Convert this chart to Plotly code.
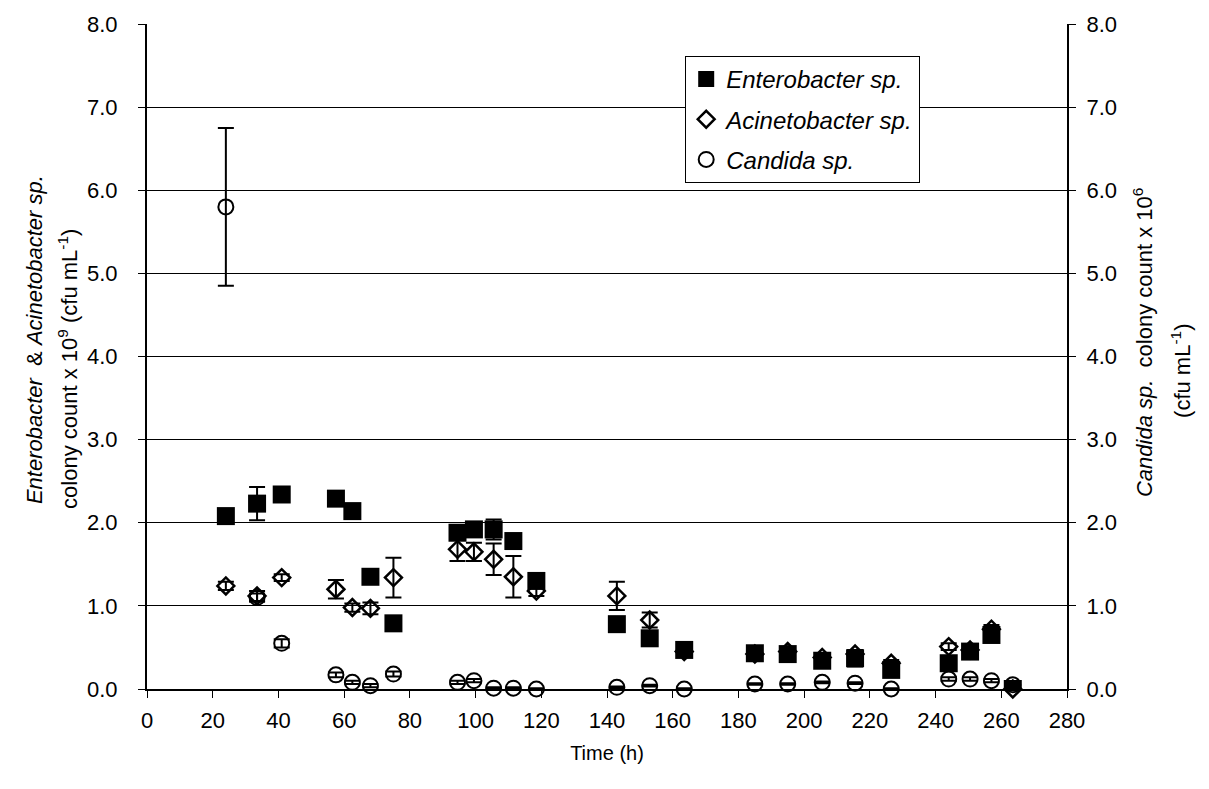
import plotly.graph_objects as go

# Sampling times (h)
time_h = [24, 33.5, 41, 57.5, 62.5, 68, 75, 94.5, 99.5, 105.5, 111.5, 118.5,
          143, 153, 163.5, 185, 195, 205.5, 215.5, 226.5, 244, 250.5, 257, 263.5]

# Enterobacter sp. (x 10^9 cfu/mL)
entero = [2.08, 2.23, 2.34, 2.29, 2.14, 1.35, 0.79, 1.88, 1.92, 1.92, 1.78, 1.30,
          0.78, 0.61, 0.47, 0.43, 0.42, 0.34, 0.37, 0.23, 0.31, 0.45, 0.65, 0.0]
entero_err = [0.04, 0.20, 0.04, 0.04, 0.08, 0.04, 0.08, 0.04, 0.04, 0.12, 0.04, 0.06,
              0.04, 0.04, 0.04, 0.04, 0.04, 0.04, 0.10, 0.04, 0.04, 0.04, 0.04, 0.02]

# Acinetobacter sp. (x 10^9 cfu/mL)
acineto = [1.24, 1.12, 1.34, 1.20, 0.98, 0.97, 1.34, 1.68, 1.65, 1.56, 1.35, 1.18,
           1.12, 0.83, 0.45, 0.42, 0.45, 0.38, 0.42, 0.31, 0.51, 0.47, 0.72, 0.0]
acineto_err = [0.05, 0.06, 0.04, 0.11, 0.05, 0.07, 0.24, 0.14, 0.11, 0.19, 0.25, 0.06,
               0.17, 0.09, 0.04, 0.04, 0.04, 0.04, 0.04, 0.04, 0.04, 0.04, 0.05, 0.02]

# Candida sp. (x 10^6 cfu/mL)
candida = [5.80, 1.10, 0.55, 0.17, 0.08, 0.04, 0.18, 0.08, 0.10, 0.01, 0.01, 0.0,
           0.02, 0.04, 0.0, 0.06, 0.06, 0.08, 0.07, 0.0, 0.12, 0.12, 0.10, 0.05]
candida_err = [0.95, 0.05, 0.05, 0.03, 0.02, 0.02, 0.03, 0.02, 0.02, 0.01, 0.01, 0.01,
               0.01, 0.01, 0.01, 0.01, 0.01, 0.01, 0.01, 0.01, 0.02, 0.02, 0.02, 0.01]

FONT = "Liberation Sans, Arial, sans-serif"

def err(vals):
    return dict(type="data", array=vals, visible=True, color="black",
                thickness=2, width=8)

fig = go.Figure()

# Drawn back to front: circles, diamonds, then squares on top
fig.add_trace(go.Scatter(
    x=time_h, y=candida, mode="markers", name="<i>Candida sp.</i>",
    legendgroup="c", legendrank=3, yaxis="y2", error_y=err(candida_err),
    cliponaxis=False,
    marker=dict(symbol="circle-open", size=15, color="black",
                line=dict(color="black", width=2)),
))
fig.add_trace(go.Scatter(
    x=time_h, y=acineto, mode="markers", name="<i>Acinetobacter sp.</i>",
    legendgroup="a", legendrank=2, error_y=err(acineto_err), cliponaxis=False,
    marker=dict(symbol="diamond-open", size=13, color="black",
                line=dict(color="black", width=2.5)),
))
fig.add_trace(go.Scatter(
    x=time_h, y=entero, mode="markers", name="<i>Enterobacter sp.</i>",
    legendgroup="e", legendrank=1, error_y=err(entero_err), cliponaxis=True,
    marker=dict(symbol="square", size=18, color="black",
                line=dict(color="black", width=0)),
))

yticks = [i * 1.0 for i in range(9)]

axis_common = dict(
    showline=True, linecolor="black", linewidth=2, zeroline=False,
    ticks="outside", ticklen=7, tickwidth=1, tickcolor="black",
    tickfont=dict(family=FONT, size=22, color="black"),
)

fig.update_layout(
    width=1209, height=789,
    margin=dict(l=147, r=142, t=20, b=100),
    paper_bgcolor="white", plot_bgcolor="white",
    font=dict(family=FONT, size=22, color="black"),
    showlegend=True,
    legend=dict(
        x=0.585, y=0.952, xanchor="left", yanchor="top",
        traceorder="grouped", tracegroupgap=6,
        bgcolor="white", bordercolor="black", borderwidth=1,
        font=dict(family=FONT, size=24, color="black"),
        itemwidth=30,
    ),
    xaxis=dict(
        range=[0, 280], tickmode="array", tickvals=list(range(0, 281, 20)),
        showgrid=False, ticklabelstandoff=4,
        title=dict(text="Time (h)", font=dict(family=FONT, size=20), standoff=14),
        **axis_common,
    ),
    yaxis=dict(
        range=[0, 8], tickmode="array", tickvals=yticks, tickformat=".1f",
        showgrid=True, gridcolor="black", gridwidth=1, ticklabelstandoff=16,
        **axis_common,
    ),
    yaxis2=dict(
        range=[0, 8], tickmode="array", tickvals=yticks, tickformat=".1f",
        overlaying="y", side="right", showgrid=False, ticklabelstandoff=6,
        **axis_common,
    ),
)

# Rotated two-line axis titles, each line placed on its own
def title_line(text, x_px, y_px):
    fig.add_annotation(
        xref="paper", yref="paper",
        x=(x_px - 147) / 920, y=(689 - y_px) / 669,
        xanchor="center", yanchor="middle", textangle=-90, showarrow=False,
        font=dict(family=FONT, size=22, color="black"), text=text,
    )

title_line("<i>Enterobacter</i>  & <i>Acinetobacter sp.</i>", 34, 338)
title_line("colony count x 10<sup>9</sup> (cfu mL<sup>-1</sup>)", 68, 367)
title_line("<i>Candida sp.</i>  colony count x 10<sup>6</sup>", 1143, 341)
title_line("(cfu mL<sup>-1</sup>)", 1181, 369)

fig.write_html("out.html")
